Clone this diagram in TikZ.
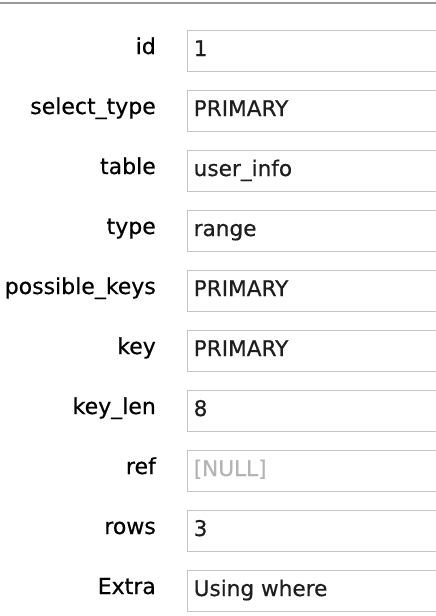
\documentclass[tikz,border=0pt]{standalone}
\usepackage{fontspec}
\setmainfont{DejaVu Sans}[FakeBold=0.5]
\definecolor{boxline}{HTML}{C4C4C4}
\definecolor{topline}{HTML}{9A9A9A}
\definecolor{valtext}{HTML}{1E1E1E}
\definecolor{nulltext}{HTML}{B4B4B4}
\begin{document}
\begin{tikzpicture}[x=1pt,y=-1pt,
  lbl/.style={anchor=base east,inner sep=0pt,font=\fontsize{22}{26}\selectfont,text=black},
  val/.style={anchor=base west,inner sep=0pt,font=\fontsize{21.6}{26}\selectfont,text=valtext},
  nullval/.style={val,text=nulltext},
  fieldbox/.style={draw=boxline,line width=1pt,fill=white,anchor=north west,inner sep=0pt,minimum width=260pt,minimum height=41pt}]
\useasboundingbox (0,0) rectangle (436,616);
\clip (0,0) rectangle (436,616);
\fill[white] (0,0) rectangle (436,616);
\coordinate (tl) at (0,3);
\coordinate (tr) at (436,3);
\draw[topline,line width=1.4pt] (tl) -- (tr);
\foreach \i/\name/\v/\sty in {0/id/1/val,1/select\_type/PRIMARY/val,2/table/user\_info/val,3/type/range/val,4/possible\_keys/PRIMARY/val,5/key/PRIMARY/val,6/key\_len/8/val,7/ref/[NULL]/nullval,8/rows/3/val,9/Extra/Using where/val}{
  \node[fieldbox] (box\i) at (186.5,{29.5+60*\i}) {};
  \node[lbl] (lab\i) at (156,{54+60*\i}) {\name};
  \node[\sty] (val\i) at (193.5,{56+60*\i}) {\v};
}
\end{tikzpicture}
\end{document}
